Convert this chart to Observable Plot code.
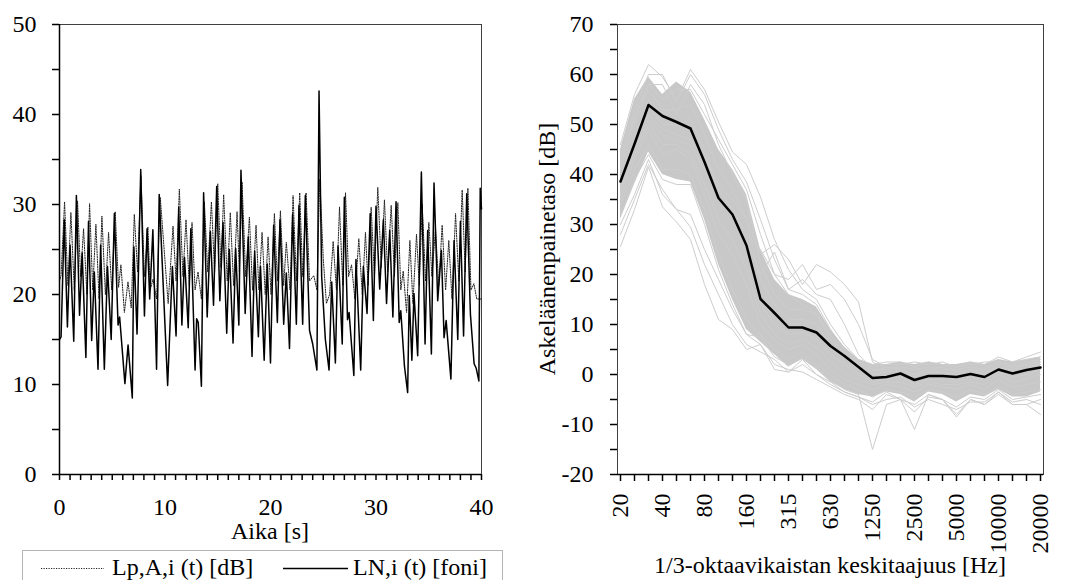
<!DOCTYPE html>
<html>
<head>
<meta charset="utf-8">
<script src="https://cdn.jsdelivr.net/npm/d3@7"></script>
<script src="https://cdn.jsdelivr.net/npm/@observablehq/plot@0.6"></script>
<style>
  body { margin: 0; background: #fff; }
  #root { position: relative; width: 1070px; height: 580px; overflow: hidden; background: #fff;
          font-family: "Liberation Serif", Tinos, "Times New Roman", Times, "DejaVu Serif", "Noto Serif", serif; color: #000; }
  .panel { position: absolute; top: 0; }
  .lbl { position: absolute; font-size: 24px; line-height: 1; white-space: nowrap; }
  #legend { position: absolute; left: 22px; top: 550px; width: 481px; height: 44px;
            border: 1px solid #b4b4b4; box-sizing: border-box; }
</style>
</head>
<body>
<div id="root">
  <div id="left" class="panel" style="left:0px"></div>
  <div id="right" class="panel" style="left:530px"></div>
  <div class="lbl" style="left:270px; top:519px; transform:translateX(-50%)">Aika [s]</div>
  <div class="lbl" style="left:830px; top:553px; transform:translateX(-50%)">1/3-oktaavikaistan keskitaajuus [Hz]</div>
  <div class="lbl" style="left:547px; top:249px; transform:translate(-50%,-50%) rotate(-90deg)">Askeläänenpainetaso [dB]</div>
  <div id="legend">
    <svg width="481" height="44" style="position:absolute;left:0;top:0">
      <line x1="18" x2="81" y1="17.5" y2="17.5" stroke="#222" stroke-width="1" stroke-dasharray="1.2,1.3"></line>
      <line x1="260" x2="325" y1="17.5" y2="17.5" stroke="#000" stroke-width="1.5"></line>
    </svg>
    <div class="lbl" style="left:89px; top:4px">Lp,A,i (t) [dB]</div>
    <div class="lbl" style="left:330px; top:4px">LN,i (t) [foni]</div>
  </div>
</div>
<script>
// ---------- Left panel: time series ----------
const leftXTicks = d3.range(0, 41, 1);
const leftYTicks = d3.range(0, 51, 5);

const timesN = [0.0,0.15,0.45,0.75,1.0,1.35,1.6,1.9,2.15,2.5,2.75,3.05,3.3,3.65,3.9,4.25,4.55,4.9,5.2,5.55,5.7,6.2,6.5,6.9,7.05,7.35,7.7,8.05,8.3,8.55,8.85,9.2,9.45,10.25,10.7,11.05,11.3,11.6,11.85,12.2,12.45,12.85,13.0,13.15,13.45,13.66,14.0,14.3,14.6,14.9,15.2,15.5,15.85,16.1,16.45,16.7,17.0,17.2,17.6,17.9,18.25,18.5,18.85,19.05,19.4,19.7,20.0,20.3,20.65,20.9,21.25,21.5,21.8,22.1,22.45,22.7,23.05,23.3,23.7,24.0,24.4,24.6,24.85,25.2,25.55,25.8,26.15,26.4,26.8,27.0,27.3,27.45,27.9,28.1,28.55,28.8,29.15,29.45,29.75,30.0,30.35,30.7,31.0,31.3,31.6,31.9,32.2,32.35,32.7,33.0,33.15,33.4,33.6,33.95,34.3,34.65,34.9,35.25,35.5,35.85,36.2,36.45,36.65,37.1,37.4,37.75,38.0,38.3,38.6,38.95,39.3,39.5,39.75,39.88,40.0];
const levelsN = [15.0,15.3,28.3,16.4,25.5,14.8,31.0,17.7,24.6,13.0,28.1,14.9,22.5,11.7,25.5,11.7,23.1,15.0,29.0,16.6,17.5,10.1,14.4,8.5,25.3,15.6,33.9,17.6,27.3,19.5,27.2,11.7,31.1,9.9,23.1,15.4,29.7,16.6,24.1,16.3,27.3,11.6,17.3,16.9,9.8,31.3,17.5,27.0,18.8,32.0,19.3,28.0,15.7,25.0,14.6,25.1,16.6,33.8,17.9,26.4,13.1,24.8,15.3,23.1,12.7,23.4,12.4,27.7,16.9,28.3,16.7,22.4,14.0,28.9,16.7,29.9,16.7,31.0,16.0,14.5,11.6,42.6,22.0,15.0,11.6,21.4,12.4,25.4,14.5,30.8,17.2,18.0,11.0,23.9,11.6,23.1,17.9,29.0,17.1,29.8,20.6,28.3,19.0,27.1,17.5,30.3,16.9,18.2,12.0,9.1,19.9,12.7,20.1,13.2,33.6,14.5,27.1,13.4,32.4,19.3,24.9,15.2,17.1,10.6,26.0,15.0,28.1,15.4,31.2,17.8,12.3,11.8,10.4,31.8,29.5];

const timesP = [0.0,0.15,0.48,0.8,1.08,1.4,1.71,2.0,2.28,2.6,2.85,3.15,3.45,3.75,4.02,4.35,4.65,4.95,5.28,5.6,5.82,6.15,6.49,6.8,7.09,7.4,7.72,8.05,8.38,8.6,8.86,9.2,9.55,10.3,10.76,11.05,11.36,11.7,11.99,12.3,12.56,12.85,13.13,13.45,13.73,14.05,14.4,14.7,15.0,15.3,15.56,15.9,16.19,16.5,16.83,17.05,17.3,17.65,18.0,18.3,18.63,18.9,19.2,19.5,19.77,20.05,20.37,20.65,20.94,21.25,21.5,21.85,22.14,22.45,22.77,23.05,23.37,23.7,24.1,24.4,24.67,25.0,25.3,25.6,25.94,26.25,26.54,26.85,27.11,27.4,27.68,28.0,28.37,28.7,29.0,29.25,29.54,29.85,30.17,30.5,30.8,31.1,31.44,31.75,32.07,32.35,32.58,32.9,33.21,33.5,33.84,34.1,34.38,34.7,35.01,35.3,35.64,35.95,36.27,36.6,36.9,37.2,37.54,37.85,38.17,38.45,38.71,39.0,39.28,39.55,40.0];
const levelsP = [21.5,22.1,30.3,21.0,29.1,20.5,30.4,22.0,27.3,20.0,30.1,20.5,27.8,19.5,28.7,20.0,26.9,20.5,29.2,20.8,23.3,18.0,21.4,18.5,28.9,22.5,33.2,22.0,27.5,20.5,21.7,19.5,30.8,19.0,27.6,21.5,31.7,22.0,28.3,21.0,28.0,20.5,22.5,19.5,30.3,22.5,30.3,22.5,32.3,23.0,31.1,21.5,29.1,21.0,29.2,22.5,32.5,22.0,28.6,20.5,27.7,20.5,26.9,20.0,26.4,20.0,29.0,21.5,29.3,21.0,25.8,20.5,31.0,21.5,31.3,22.0,31.3,21.5,22.1,20.5,32.8,24.0,19.0,20.0,25.9,20.5,29.7,21.0,31.3,22.0,23.3,19.5,26.2,20.0,26.9,21.0,29.7,22.0,31.9,23.0,30.5,22.5,29.9,22.0,30.2,20.5,22.6,18.0,26.0,19.0,26.7,21.0,30.0,21.5,28.0,22.0,27.3,21.0,27.7,20.5,26.0,19.5,29.0,21.5,31.6,22.5,31.8,20.5,21.2,19.5,19.5];

// ---------- Right panel: 1/3-octave spectra ----------
const bands = ["20","25","31.5","40","50","63","80","100","125","160","200","250","315","400","500","630","800","1000","1250","1600","2000","2500","3150","4000","5000","6300","8000","10000","12500","16000","20000"];
const labeledBands = ["20","40","80","160","315","630","1250","2500","5000","10000","20000"];
const rightYTicks = d3.range(-20, 71, 5);

const meanSpectrum = [38.6,46.1,53.9,51.7,50.5,49.2,42.5,35.3,32.0,25.8,15.1,12.3,9.4,9.4,8.4,5.7,3.7,1.5,-0.7,-0.5,0.2,-1.1,-0.3,-0.3,-0.5,0.1,-0.5,1.0,0.2,0.9,1.4];

const coreHigh = [45,55,59.5,56,58.5,56.5,51,45,41,36,25,19,16,15,13.5,9,5.5,3,2,2,2.5,2,2.5,2,2,2.5,2,3,2.5,3,3.5];
const coreLow  = [31,38,44.5,40,39,38.5,31,22,15,9,6.5,4,1.5,3,1,-1.5,-3,-4,-4.5,-3.5,-4,-5.5,-3.5,-4,-5.5,-4,-4.5,-3,-4.5,-4.5,-3.5];

const s01 = [46,56,62,59.5,55,61,57,50.5,44.5,42,35.5,27,21,17,15,10,6,3,2,2.5,2.5,1.5,2.5,2,1.5,2.5,2,3.5,2.5,3.5,4.5];
const s02 = [44,53,60,60,54.5,60,56,49,43,38.5,31,23,17,16,14,9,5,2.5,1.5,2,2,2.5,2,2.5,1.5,2,2.5,2.5,2,3,3.5];
const s03 = [42,52,58,55,57,57,52,47,42,37,28,20,16,14,12,8,4,1.5,0.5,1.5,1,0,1,1.5,0.5,1,0,2,1.5,2,2.5];
const s04 = [25.6,33,41.5,33.5,30.5,27,18,11,9,5,6,2,1,0.5,-1,-2.5,-4,-5,-7,-4,-5,-7.5,-4.5,-5,-8,-5,-6,-4,-6,-6,-8];
const s05 = [28,35,42,37,33,29.5,22,16,10,6,4.5,3,0.5,2,0,-2,-3.5,-4.5,-6,-5,-4.5,-6.5,-5,-6,-7,-5.5,-5.5,-3.5,-5.5,-5,-6];
const s06 = [30,36,43,36,33,32,25,19,13,8,7.5,3.5,2,3.5,1.5,-1,-3,-4,-15,-6,-5,-11,-4,-5,-6.5,-4.5,-5,-3,-5,-4.5,-4];
const s07 = [38,47,52,49,48,47,43,38,35,31,24,26,23,18,22,20.5,18,14.5,2.5,1,0.5,-1,0,-0.5,-1,0,-0.5,1,0,1,1.5];
const s08 = [40,48,54,50,50,49,44,37,33,28,25,20,19,22,17,18,15,10,3,1.5,1,0,1,0.5,0,0.5,0,1.5,0.5,1.5,2];
const s09 = [36,45,51,48,47,46,41,35,32,27,20,24.5,17,19,16,15,10,4,1,0.5,1,-0.5,0.5,0,-0.5,0.5,-1,1,0,1,2];
const s10 = [32,39,44,39,38,38,30,21,14,8,6,1,0.5,3,0,-1.5,-3.5,-4.5,-5.5,-3.5,-5,-6,-4,-5,-8.5,-5,-6,-3.5,-6,-6,-5];
const s11 = [34,41,46,41,41,40,33,24,17,11,8,5,3,4.5,2,0,-2,-3,-4.5,-3,-3.5,-4.5,-3,-3.5,-4.5,-3,-4,-2.5,-4,-3.5,-3];
const s12 = [39,47,55,52,50,51,45,37,33,26,14,10,8,8.5,7,4,2,0,-1.5,-1,-0.5,-2,-1,-1,-1.5,-0.5,-1,0.5,-0.5,0,1];
const s13 = [41,50,57,53,53,54,48,41,37,31,19,14,11,11,10,6,3.5,1,0,0.5,1,0,0.5,0.5,0,1,0.5,1.5,1,2,2.5];
const s14 = [35,43,49,44,45,43,36,28,24,18,10,7,5,6,4,1,-1,-2,-3,-2,-2.5,-3.5,-2,-2.5,-3,-2,-3,-1,-2.5,-2,-1.5];
const s15 = [43,51,58,58,52,58,54,46,40,35,22,16,13,13,12,7,4.5,2,1,1,1.5,1,1.5,1,1,1.5,1,2.5,1.5,2.5,3];
const s16 = [37,44,50,46,46,44,38,31,27,21,12,8,6,7,5.5,2.5,0.5,-1,-2,-1.5,-1.5,-2.5,-1.5,-2,-2,-1.5,-2,0,-1.5,-1,0];
const grayLines = [s01,s02,s03,s04,s05,s06,s07,s08,s09,s10,s11,s12,s13,s14,s15,s16];

// ---------- build tables ----------
const solidRows = timesN.map((t, i) => ({t, v: levelsN[i]}));
const dotRows = timesP.map((t, i) => ({t, v: levelsP[i]}));
const coreRows = bands.map((b, i) => ({band: b, lo: coreLow[i], hi: coreHigh[i]}));
const grayRows = grayLines.flatMap((arr, k) => arr.map((v, i) => ({band: bands[i], v, k})));
const meanRows = bands.map((b, i) => ({band: b, v: meanSpectrum[i]}));

const font = '"Liberation Serif", Tinos, "Times New Roman", Times, "DejaVu Serif", "Noto Serif", serif';

const leftPlot = Plot.plot({
  width: 530, height: 550,
  marginLeft: 59, marginRight: 49, marginTop: 24, marginBottom: 76,
  style: {fontFamily: font, fontSize: "24px", color: "#000", background: "transparent", overflow: "visible"},
  x: {domain: [0, 40], label: null},
  y: {domain: [0, 50], label: null},
  marks: [
    Plot.frame({stroke: "#404040", strokeWidth: 1}),
    Plot.line(dotRows, {x: "t", y: "v", stroke: "#222", strokeWidth: 1, strokeDasharray: "1.2,1.3"}),
    Plot.line(solidRows, {x: "t", y: "v", stroke: "#000", strokeWidth: 1.5}),
    Plot.axisY({ticks: leftYTicks, tickFormat: d => d % 10 === 0 ? String(d) : "", tickSize: 7, tickPadding: 16, strokeWidth: 1.5, label: null}),
    Plot.axisX({ticks: leftXTicks, tickFormat: d => d % 10 === 0 ? String(d) : "", tickSize: 6, tickPadding: 17, strokeWidth: 1.5, label: null}),
    Plot.ruleX([0], {stroke: "#000", strokeWidth: 1.5}),
    Plot.ruleY([0], {stroke: "#000", strokeWidth: 1.5})
  ]
});
document.getElementById("left").appendChild(leftPlot);

const rightPlot = Plot.plot({
  width: 540, height: 580,
  marginLeft: 87, marginRight: 27, marginTop: 24, marginBottom: 106,
  style: {fontFamily: font, fontSize: "24px", color: "#000", background: "transparent", overflow: "visible"},
  x: {type: "point", domain: bands, padding: 0, label: null},
  y: {domain: [-20, 70], label: null},
  marks: [
    Plot.areaY(coreRows, {x: "band", y1: "lo", y2: "hi", fill: "#c8c8c8"}),
    Plot.line(grayRows, {x: "band", y: "v", z: "k", stroke: "#cdcdcd", strokeWidth: 1}),
    Plot.line(meanRows, {x: "band", y: "v", stroke: "#000", strokeWidth: 2.5}),
    Plot.frame({stroke: "#404040", strokeWidth: 1}),
    Plot.axisY({ticks: rightYTicks, tickFormat: d => d % 10 === 0 ? String(d) : "", tickSize: 7, tickPadding: 17, strokeWidth: 1.5, label: null}),
    Plot.axisX({ticks: bands, tickFormat: d => labeledBands.includes(d) ? d : "", tickRotate: -90, tickSize: 7, tickPadding: 12, strokeWidth: 1.5, label: null}),
    Plot.ruleY([-20], {stroke: "#000", strokeWidth: 1.5})
  ]
});
document.getElementById("right").appendChild(rightPlot);
</script>
</body>
</html>
